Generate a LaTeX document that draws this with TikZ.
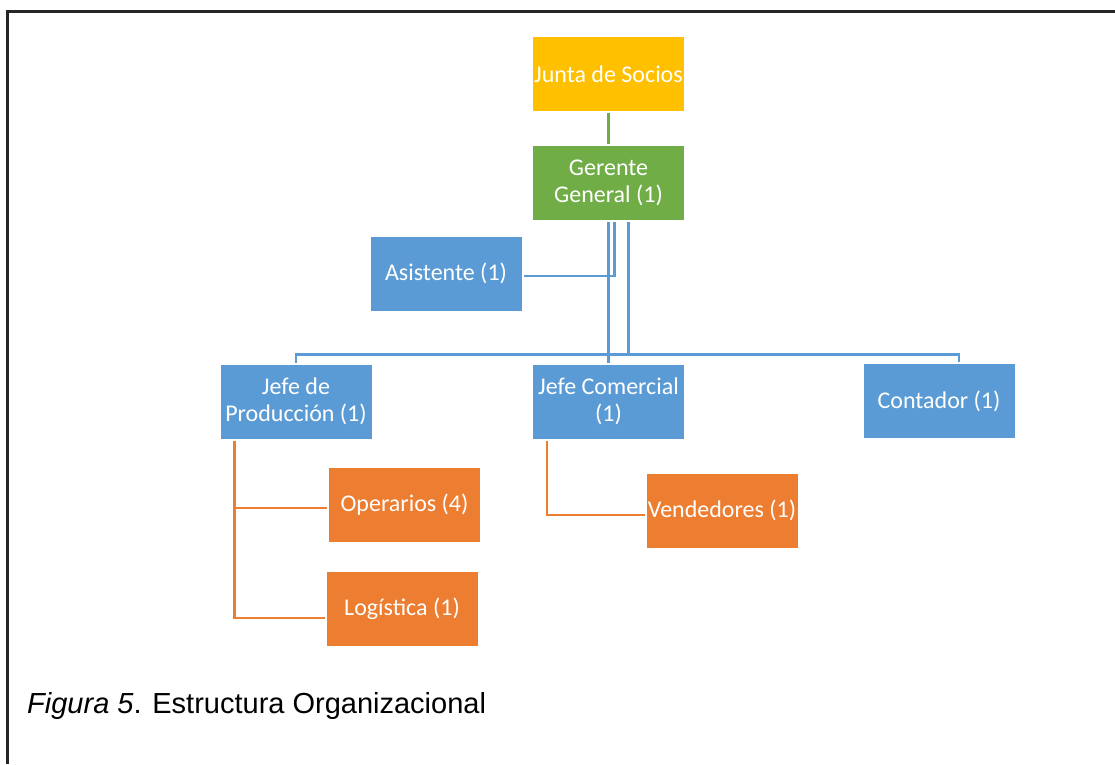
\documentclass[tikz,border=0pt]{standalone}
\usepackage{fontspec}
\setmainfont{Carlito}
\newfontfamily\capfont{Liberation Sans}
\usetikzlibrary{positioning,calc}
\definecolor{socios}{HTML}{FFC000}
\definecolor{verde}{HTML}{70AD47}
\definecolor{azul}{HTML}{5B9BD5}
\definecolor{naranja}{HTML}{ED7D31}

\begin{document}
\begin{tikzpicture}[
    x=1pt, y=-1pt,
    box/.style={minimum width=151pt, minimum height=74pt, inner sep=0pt, outer sep=2pt,
                text=white, align=center, font=\fontsize{24}{27}\selectfont},
    Ybox/.style={box, fill=socios},
    Gbox/.style={box, fill=verde},
    Bbox/.style={box, fill=azul},
    Obox/.style={box, fill=naranja},
    gln/.style={draw=verde, line width=2.8pt},
    bln/.style={draw=azul, line width=2.8pt},
    oln/.style={draw=naranja, line width=2.8pt},
    frm/.style={line width=3pt, black!85},
    capt/.style={font=\capfont\fontsize{29}{34}\selectfont, anchor=west, inner sep=0pt},
]
\useasboundingbox (0,0) rectangle (1115,764);
\draw[frm] (7,764) -- (7,11) -- (1115,11);

% top levels
\node[Ybox] (junta) at (608.5,74) {Junta de Socios};
\node[Gbox] (gerente) at (608.5,183) {Gerente\\General (1)};
\node[Bbox] (asist) at (446,273.5) {Asistente (1)};

% jefes
\node[Bbox] (jprod) at (296,401.5) {Jefe de\\Producci\'on (1)};
\node[Bbox] (jcom) at (608.5,401.5) {Jefe Comercial\\(1)};
\node[Bbox] (cont) at (939,401) {Contador (1)};

% personal
\node[Obox] (oper) at (404.5,504.5) {Operarios (4)};
\node[Obox] (logis) at (402,608.5) {Log\'istica (1)};
\node[Obox] (vend) at (722,510.5) {Vendedores (1)};

\draw[gln] (junta) -- (gerente);
\draw[bln] (gerente) -- (jcom);
\draw[bln] ($(gerente.south)+(6,0)$) |- ($(asist.east)+(0,2.5)$);
\draw[bln] (jprod.north) -- ++(0,-8) coordinate (busL) -| ($(cont.north)+(20,0)$);
\coordinate (g3) at ($(gerente.south)+(20,0)$);
\draw[bln] (g3) -- (g3 |- busL);

\coordinate (jp) at ($(jprod.south west)+(16,0)$);
\draw[oln] (jp) |- ($(oper.west)+(0,3.5)$);
\draw[oln] (jp) |- ($(logis.west)+(0,9.5)$);
\coordinate (jc) at ($(jcom.south west)+(16,0)$);
\draw[oln] (jc) |- ($(vend.west)+(0,4.5)$);

\node[capt] (fig) at (27,706) {{\itshape Figura 5}. Estructura Organizacional};
\end{tikzpicture}
\end{document}
